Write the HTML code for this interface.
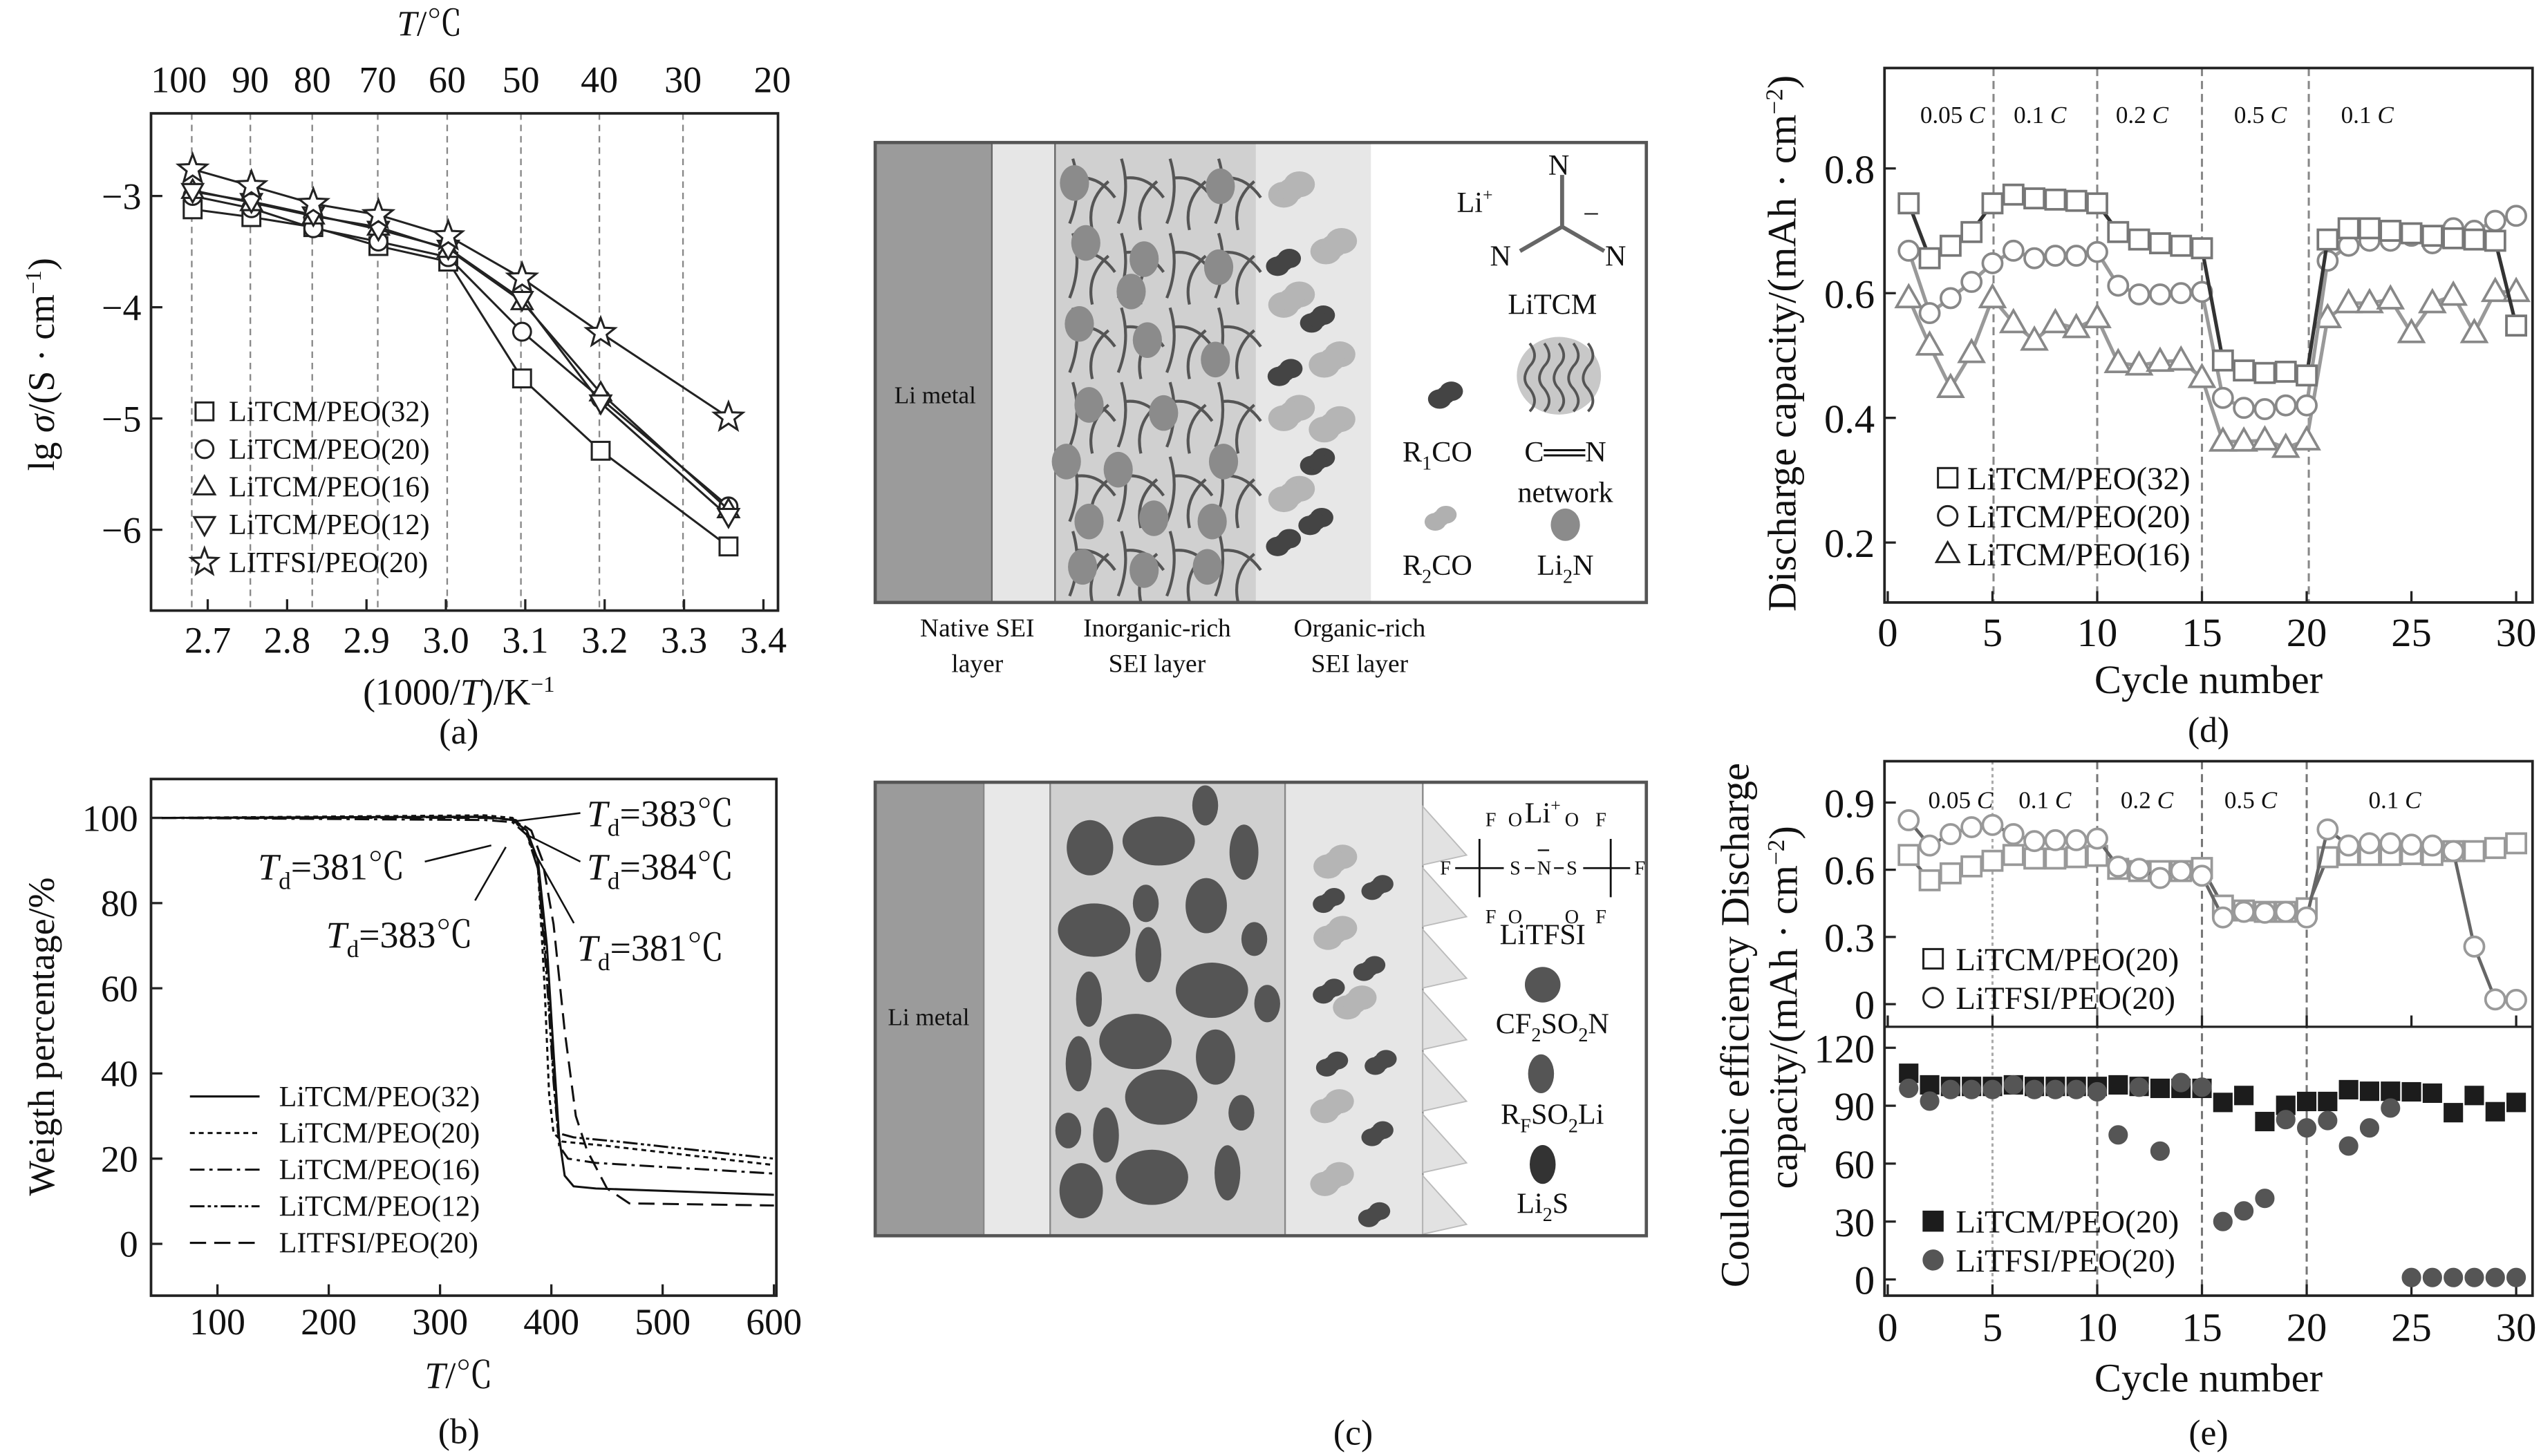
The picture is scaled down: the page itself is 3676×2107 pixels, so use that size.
<!DOCTYPE html>
<html><head><meta charset="utf-8">
<style>
html,body{margin:0;padding:0;background:#fff;}
svg{display:block;}
text{font-family:"Liberation Serif","Noto Serif CJK SC",serif;fill:#111;}
</style></head>
<body>
<svg id="fig" width="3676" height="2107" viewBox="0 0 1568 899" xmlns="http://www.w3.org/2000/svg">
<rect x="0" y="0" width="1568" height="899" fill="#fff"/>
</svg>
<script>
// ===== Panel (a) data =====
const aX = [2.681, 2.755, 2.833, 2.915, 3.003, 3.096, 3.195, 3.356];
const aPEO32 = [-3.12, -3.19, -3.28, -3.45, -3.59, -4.64, -5.29, -6.15];
const aPEO20 = [-3.0, -3.11, -3.29, -3.41, -3.55, -4.22, -4.82, -5.79];
const aPEO16 = [-2.95, -3.06, -3.18, -3.28, -3.48, -3.95, -4.77, -5.82];
const aPEO12 = [-2.96, -3.05, -3.17, -3.30, -3.47, -3.93, -4.86, -5.88];
const aTFSI = [-2.76, -2.91, -3.07, -3.17, -3.36, -3.74, -4.23, -4.99];
const aYTicks = [-3, -4, -5, -6];
const aXTicks = [2.7, 2.8, 2.9, 3.0, 3.1, 3.2, 3.3, 3.4];
const aTopTemps = [100, 90, 80, 70, 60, 50, 40, 30, 20];
const aGridTemps = [100, 90, 80, 70, 60, 50, 40, 30];

// ===== Panel (b) data =====
const bT32 = [50, 340, 365, 378, 388, 396, 402, 407, 412, 420, 440, 600];
const bW32 = [100, 100.3, 99.5, 97, 90, 70, 45, 25, 16, 13.5, 13, 11.5];
const bT20 = [50, 340, 365, 378, 388, 394, 398, 402, 410, 450, 600];
const bW20 = [100, 100.6, 100, 97, 88, 60, 35, 26, 24, 23, 18.5];
const bT16 = [50, 340, 365, 378, 388, 396, 402, 407, 415, 440, 600];
const bW16 = [100, 99.5, 99, 96, 88, 65, 40, 23, 20, 19, 16.5];
const bT12 = [50, 340, 365, 378, 388, 396, 402, 406, 420, 460, 600];
const bW12 = [100, 100.2, 99.5, 96.5, 88, 62, 38, 26, 25, 24, 20];
const bTTF = [50, 340, 368, 382, 392, 402, 412, 422, 432, 450, 470, 600];
const bWTF = [100, 100, 99.5, 97, 90, 75, 50, 30, 22, 13, 9.5, 9];
const bYTicks = [0, 20, 40, 60, 80, 100];
const bXTicks = [100, 200, 300, 400, 500, 600];

// ===== Panel (d) data =====
const cycles = [1,2,3,4,5,6,7,8,9,10,11,12,13,14,15,16,17,18,19,20,21,22,23,24,25,26,27,28,29,30];
const dPEO32 = [0.744,0.656,0.676,0.698,0.744,0.758,0.752,0.75,0.748,0.744,0.698,0.686,0.68,0.676,0.672,0.492,0.476,0.472,0.474,0.468,0.686,0.704,0.704,0.70,0.696,0.692,0.688,0.686,0.684,0.548];
const dPEO20 = [0.668,0.568,0.592,0.618,0.648,0.668,0.656,0.66,0.66,0.666,0.612,0.598,0.598,0.60,0.602,0.432,0.416,0.414,0.42,0.42,0.652,0.676,0.684,0.684,0.692,0.68,0.704,0.70,0.716,0.724];
const dPEO16 = [0.592,0.516,0.448,0.504,0.592,0.552,0.524,0.552,0.544,0.56,0.488,0.484,0.49,0.492,0.464,0.362,0.362,0.364,0.352,0.364,0.56,0.584,0.584,0.59,0.536,0.584,0.596,0.536,0.602,0.602];
const dYTicks = [0.2, 0.4, 0.6, 0.8];
const xCycleTicks = [0, 5, 10, 15, 20, 25, 30];
const rateLabels = ["0.05 ", "0.1 ", "0.2 ", "0.5 ", "0.1 "];

// ===== Panel (e) data =====
const eCapTCM = [0.666,0.553,0.584,0.615,0.64,0.666,0.65,0.65,0.656,0.662,0.604,0.594,0.594,0.594,0.608,0.44,0.418,0.412,0.412,0.428,0.656,0.666,0.666,0.666,0.67,0.666,0.683,0.683,0.697,0.718];
const eCapTFSI = [0.821,0.708,0.759,0.79,0.80,0.759,0.728,0.732,0.732,0.739,0.614,0.604,0.563,0.594,0.573,0.387,0.412,0.408,0.412,0.387,0.78,0.708,0.718,0.718,0.712,0.708,0.683,0.257,0.021,0.019];
const eCeTCM = [106.8,100.8,100,100,100,100.8,100,100,100,100,100.8,100,99,99,99,91.7,95.3,81.8,90.2,92.2,92.2,98.3,97.5,97.5,97.2,96.5,86.4,95.3,86.9,91.7];
const eCeTFSI = [99,92.4,98.4,98.4,98.4,100.8,98.4,98.4,98.4,97.2,74.9,99.6,66.5,102,99.6,30,35.5,42,82.8,78.5,82.3,69.1,78.5,88.8,1,1,1,1,1,1];
const eCapTicks = [0, 0.3, 0.6, 0.9];
const eCeTicks = [0, 30, 60, 90, 120];

const NS = "http://www.w3.org/2000/svg";
const svg = document.getElementById('fig');
function mk(tag, attrs, parent) {
  const e = document.createElementNS(NS, tag);
  for (const k in attrs) e.setAttribute(k, attrs[k]);
  (parent || svg).appendChild(e);
  return e;
}
function txt(s, x, y, size, anchor, parent, extra) {
  const t = mk('text', Object.assign({x: x, y: y, 'font-size': size, 'text-anchor': anchor || 'middle'}, extra || {}), parent);
  t.innerHTML = s;
  return t;
}
function group(parent) { return mk('g', {}, parent); }
function marker(kind, x, y, s, parent, stroke, fill, sw) {
  let e;
  if (kind === 'square') e = mk('rect', {x: x - s/2, y: y - s/2, width: s, height: s}, parent);
  else if (kind === 'circle') e = mk('circle', {cx: x, cy: y, r: s/2}, parent);
  else if (kind === 'tri') e = mk('polygon', {points: `${x},${y - s*0.6} ${x - s*0.58},${y + s*0.42} ${x + s*0.58},${y + s*0.42}`}, parent);
  else if (kind === 'itri') e = mk('polygon', {points: `${x},${y + s*0.6} ${x - s*0.58},${y - s*0.42} ${x + s*0.58},${y - s*0.42}`}, parent);
  else if (kind === 'star') {
    let p = [];
    for (let i = 0; i < 10; i++) {
      const r = i % 2 === 0 ? s*0.62 : s*0.26;
      const a = -Math.PI/2 + i*Math.PI/5;
      p.push((x + r*Math.cos(a)).toFixed(2) + ',' + (y + r*Math.sin(a)).toFixed(2));
    }
    e = mk('polygon', {points: p.join(' ')}, parent);
  }
  e.setAttribute('stroke', stroke);
  e.setAttribute('fill', fill);
  e.setAttribute('stroke-width', sw);
  return e;
}
function polyline(xs, ys, fx, fy, parent, stroke, sw, dash) {
  const pts = xs.map((v, i) => fx(v).toFixed(2) + ',' + fy(ys[i]).toFixed(2)).join(' ');
  const a = {points: pts, fill: 'none', stroke: stroke, 'stroke-width': sw, 'stroke-linejoin': 'round'};
  if (dash) a['stroke-dasharray'] = dash;
  return mk('polyline', a, parent);
}

// ================= PANEL A =================
(function () {
  const L = 93, R = 480, T = 70, B = 377;
  const ax = v => 128 + (v - 2.7) * 490;
  const ay = v => 121 + (-3 - v) * 68.7;
  const g = group();
  
  
  aGridTemps.forEach(t => {
    const x = ax(1000 / (t + 273.15));
    const l = mk('line', {x1: x, y1: T, x2: x, y2: B, stroke: '#888', 'stroke-width': 1, 'stroke-dasharray': '4,3'}, g);
    
    
  });
  const box = mk('rect', {x: L, y: T, width: R - L, height: B - T, fill: 'none', stroke: '#222', 'stroke-width': 1.6}, g);
  
  
  aYTicks.forEach(v => {
    mk('line', {x1: L, y1: ay(v), x2: L + 7, y2: ay(v), stroke: '#222', 'stroke-width': 1.4}, g);
    const t = txt('−' + Math.abs(v), L - 6, ay(v) + 8, 23, 'end', g);
    
    
  });
  aXTicks.forEach(v => {
    mk('line', {x1: ax(v), y1: B, x2: ax(v), y2: B - 7, stroke: '#222', 'stroke-width': 1.4}, g);
    const t = txt(v.toFixed(1), ax(v), B + 26, 23, 'middle', g);
    
    
  });
  aTopTemps.forEach(tc => {
    const x = ax(1000 / (tc + 273.15));
    const t = txt(String(tc), tc === 100 ? x - 8 : x, 57, 23, 'middle', g);
    
    
  });
  const tt = txt('<tspan font-style="italic">T</tspan>/℃', 265, 22, 22, 'middle', g);
  
  
  const yl = txt('lg <tspan font-style="italic">σ</tspan>/(S · cm<tspan dy="-8" font-size="14">−1</tspan><tspan dy="8">)</tspan>', 0, 0, 23, 'middle', g, {transform: 'translate(33,225) rotate(-90)'});
  
  
  const xl = txt('(1000/<tspan font-style="italic">T</tspan>)/K<tspan dy="-8" font-size="14">−1</tspan>', 283, 435, 23, 'middle', g);
  
  
  const cap = txt('(a)', 283, 459, 22, 'middle', g);
  
  

  const series = [
    {n: 'LiTCM/PEO(32)', d: aPEO32, m: 'square'},
    {n: 'LiTCM/PEO(20)', d: aPEO20, m: 'circle'},
    {n: 'LiTCM/PEO(16)', d: aPEO16, m: 'tri'},
    {n: 'LiTCM/PEO(12)', d: aPEO12, m: 'itri'},
    {n: 'LITFSI/PEO(20)', d: aTFSI, m: 'star'}
  ];
  series.forEach((s, i) => {
    const sg = group(g);
    
    
    polyline(aX, s.d, ax, ay, sg, '#222', 1.3);
    aX.forEach((x, j) => marker(s.m, ax(x), ay(s.d[j]), s.m === 'star' ? 15 : 11, sg, '#222', '#fff', 1.3));
    const ly = 254 + i * 23.3;
    const lg = group(g);
    
    
    marker(s.m, 126, ly, s.m === 'star' ? 14 : 11, lg, '#222', '#fff', 1.3);
    txt(s.n, 141, ly + 6, 18, 'start', lg);
  });
})();

// ================= PANEL B =================
(function () {
  const L = 93, R = 479, T = 481, B = 800;
  const bx = v => 134 + (v - 100) * 0.687;
  const by = v => 768 - v * 2.63;
  const g = group();
  
  
  const clip = mk('clipPath', {id: 'clipb'}, g);
  mk('rect', {x: L, y: T, width: R - L, height: B - T}, clip);
  const box = mk('rect', {x: L, y: T, width: R - L, height: B - T, fill: 'none', stroke: '#222', 'stroke-width': 1.6}, g);
  
  
  bYTicks.forEach(v => {
    mk('line', {x1: L, y1: by(v), x2: L + 7, y2: by(v), stroke: '#222', 'stroke-width': 1.4}, g);
    const t = txt(String(v), L - 8, by(v) + 8, 23, 'end', g);
    
    
  });
  bXTicks.forEach(v => {
    mk('line', {x1: bx(v), y1: B, x2: bx(v), y2: B - 7, stroke: '#222', 'stroke-width': 1.4}, g);
    const t = txt(String(v), bx(v), B + 24, 23, 'middle', g);
    
    
  });
  const yl = txt('Weigth percentage/%', 0, 0, 23, 'middle', g, {transform: 'translate(33,640) rotate(-90)'});
  
  
  const xl = txt('<tspan font-style="italic">T</tspan>/℃', 283, 857, 23, 'middle', g);
  
  
  const cap = txt('(b)', 283, 891, 22, 'middle', g);
  
  
  const series = [
    {n: 'LiTCM/PEO(32)', t: bT32, w: bW32, dash: null},
    {n: 'LiTCM/PEO(20)', t: bT20, w: bW20, dash: '3,2.5'},
    {n: 'LiTCM/PEO(16)', t: bT16, w: bW16, dash: '9,3,2,3'},
    {n: 'LiTCM/PEO(12)', t: bT12, w: bW12, dash: '9,2,2,2,2,2'},
    {n: 'LITFSI/PEO(20)', t: bTTF, w: bWTF, dash: '10,5'}
  ];
  series.forEach((s, i) => {
    const sg = group(g);
    
    
    sg.setAttribute('clip-path', 'url(#clipb)');
    polyline(s.t, s.w, bx, by, sg, '#111', 1.3, s.dash);
    const ly = 677 + i * 22.6;
    const lg = group(g);
    
    
    const la = {x1: 117, y1: ly, x2: 160, y2: ly, stroke: '#111', 'stroke-width': 1.3};
    if (s.dash) la['stroke-dasharray'] = s.dash;
    mk('line', la, lg);
    txt(s.n, 172, ly + 6, 18, 'start', lg);
  });
  const ann = [
    {s: '383', x: 362, y: 510, lx1: 318, ly1: 507, lx2: 358, ly2: 502},
    {s: '381', x: 159, y: 543, lx1: 262, ly1: 532, lx2: 303, ly2: 522},
    {s: '384', x: 362, y: 543, lx1: 326, ly1: 516, lx2: 358, ly2: 532},
    {s: '383', x: 201, y: 585, lx1: 312, ly1: 523, lx2: 293, ly2: 556},
    {s: '381', x: 356, y: 593, lx1: 330, ly1: 527, lx2: 354, ly2: 570}
  ];
  ann.forEach(a => {
    const ag = group(g);
    
    
    mk('line', {x1: a.lx1, y1: a.ly1, x2: a.lx2, y2: a.ly2, stroke: '#111', 'stroke-width': 1.1}, ag);
    txt('<tspan font-style="italic">T</tspan><tspan font-size="15" dy="6">d</tspan><tspan dy="-6">=' + a.s + '℃</tspan>', a.x, a.y, 23, 'start', ag);
  });
})();

// ================= PANEL C =================
(function () {
  const g = group();
  
  
  function blob(cx, cy, s, fill, parent) {
    const bg = group(parent);
    mk('ellipse', {cx: cx - 3*s, cy: cy + 2*s, rx: 6*s, ry: 5*s, fill: fill}, bg);
    mk('ellipse', {cx: cx + 3*s, cy: cy - 2*s, rx: 6*s, ry: 5*s, fill: fill}, bg);
    mk('ellipse', {cx: cx, cy: cy, rx: 5*s, ry: 4.5*s, fill: fill}, bg);
    return bg;
  }
  const top = group(g);
  
  
  mk('rect', {x: 540, y: 88, width: 476, height: 284, fill: '#fff'}, top);
  mk('rect', {x: 540, y: 88, width: 72, height: 284, fill: '#9b9b9b'}, top);
  mk('rect', {x: 612, y: 88, width: 39, height: 284, fill: '#e6e6e6'}, top);
  mk('rect', {x: 651, y: 88, width: 124, height: 284, fill: '#d0d0d0'}, top);
  mk('rect', {x: 775, y: 88, width: 71, height: 284, fill: '#e7e7e7'}, top);
  mk('line', {x1: 612, y1: 88, x2: 612, y2: 372, stroke: '#666', 'stroke-width': 1}, top);
  mk('line', {x1: 651, y1: 88, x2: 651, y2: 372, stroke: '#666', 'stroke-width': 1}, top);
  for (let r = 0; r < 6; r++) {
    for (let c = 0; c < 4; c++) {
      const x0 = 660 + c * 30, y0 = 98 + r * 46;
      mk('path', {d: `M${x0},${y0 + 40} q8,-20 2,-40 M${x0 + 4},${y0 + 12} q14,-2 24,12 M${x0 + 14},${y0 + 44} q-4,-18 10,-30`, fill: 'none', stroke: '#555', 'stroke-width': 1.8}, top);
    }
  }
  const dots = [[663,113],[753,115],[670,150],[706,160],[752,165],[666,200],[708,210],[750,222],[672,250],[718,255],[658,285],[690,290],[755,285],[672,322],[712,320],[748,322],[668,350],[706,352],[745,350],[698,180]];
  dots.forEach(d => mk('ellipse', {cx: d[0], cy: d[1], rx: 9, ry: 11, fill: '#8b8b8b'}, top));
  const lblobs = [[797,117],[823,152],[797,185],[822,222],[797,255],[797,305],[822,262]];
  lblobs.forEach(b => blob(b[0], b[1], 1.6, '#b5b5b5', top));
  const dblobs = [[792,162],[813,197],[793,230],[813,285],[792,335],[812,322]];
  dblobs.forEach(b => blob(b[0], b[1], 1.2, '#444', top));
  mk('rect', {x: 540, y: 88, width: 476, height: 284, fill: 'none', stroke: '#555', 'stroke-width': 2}, top);
  txt('Li metal', 577, 249, 15, 'middle', top);
  txt('Li<tspan dy="-7" font-size="11">+</tspan>', 899, 131, 18, 'start', top);
  mk('line', {x1: 964, y1: 108, x2: 964, y2: 140, stroke: '#666', 'stroke-width': 2.5}, top);
  mk('line', {x1: 964, y1: 140, x2: 938, y2: 155, stroke: '#666', 'stroke-width': 2.5}, top);
  mk('line', {x1: 964, y1: 140, x2: 990, y2: 155, stroke: '#666', 'stroke-width': 2.5}, top);
  txt('N', 962, 108, 18, 'middle', top);
  txt('N', 926, 164, 18, 'middle', top);
  txt('N', 997, 164, 18, 'middle', top);
  txt('−', 982, 138, 18, 'middle', top);
  txt('LiTCM', 958, 194, 18, 'middle', top);
  const net = group(top);
  mk('ellipse', {cx: 962, cy: 232, rx: 26, ry: 24, fill: '#c8c8c8'}, net);
  for (let i = 0; i < 5; i++) mk('path', {d: `M${944 + i*9},${212} q6,8 0,14 q-6,8 0,14 q6,8 0,14`, fill: 'none', stroke: '#555', 'stroke-width': 1.6}, net);
  blob(892, 244, 1.2, '#444', top);
  txt('R<tspan font-size="12" dy="5">1</tspan><tspan dy="-5">CO</tspan>', 887, 285, 18, 'middle', top);
  txt('C══N', 966, 285, 18, 'middle', top);
  txt('network', 966, 310, 18, 'middle', top);
  blob(889, 320, 1.1, '#b0b0b0', top);
  txt('R<tspan font-size="12" dy="5">2</tspan><tspan dy="-5">CO</tspan>', 887, 355, 18, 'middle', top);
  mk('ellipse', {cx: 966, cy: 324, rx: 9, ry: 10, fill: '#8b8b8b'}, top);
  txt('Li<tspan font-size="12" dy="5">2</tspan><tspan dy="-5">N</tspan>', 966, 355, 18, 'middle', top);
  [['Native SEI', 'layer', 603], ['Inorganic-rich', 'SEI layer', 714], ['Organic-rich', 'SEI layer', 839]].forEach(l => {
    const t = txt(l[0], l[2], 393, 16, 'middle', g);
    
    
    txt(l[1], l[2], 415, 16, 'middle', g);
  });

  const bot = group(g);
  
  
  mk('rect', {x: 540, y: 483, width: 476, height: 280, fill: '#fff'}, bot);
  mk('rect', {x: 540, y: 483, width: 67, height: 280, fill: '#9b9b9b'}, bot);
  mk('rect', {x: 607, y: 483, width: 41, height: 280, fill: '#e8e8e8'}, bot);
  mk('rect', {x: 648, y: 483, width: 145, height: 280, fill: '#d0d0d0'}, bot);
  mk('rect', {x: 793, y: 483, width: 85, height: 280, fill: '#e6e6e6'}, bot);
  [607, 648, 793, 878].forEach(x => mk('line', {x1: x, y1: 483, x2: x, y2: 763, stroke: '#888', 'stroke-width': 1}, bot));
  for (let i = 0; i < 7; i++) {
    const y0 = 498 + i * 38;
    mk('polygon', {points: `878,${y0} 905,${y0 + 30} 878,${y0 + 36}`, fill: '#e2e2e2', stroke: '#bbb', 'stroke-width': 0.8}, bot);
  }
  const ells = [[447,205,45,62],[580,190,70,55],[670,110,25,45],[745,215,28,62],[555,330,25,42],[455,390,70,60],[672,335,40,62],[765,410,25,38],[560,445,25,62],[445,545,25,62],[683,525,70,62],[790,555,25,42],[535,640,70,62],[425,690,25,62],[690,675,38,62],[585,765,70,62],[740,800,25,40],[405,840,25,40],[478,850,25,62],[430,975,42,62],[567,945,70,62],[713,935,25,62]];
  ells.forEach(e => mk('ellipse', {cx: 648 + (e[0] - 370) * 0.319, cy: 483 + (e[1] - 58) * 0.275, rx: e[2] * 0.319, ry: e[3] * 0.275, fill: '#555'}, bot));
  [[824,532],[824,576],[836,619],[822,683],[822,728]].forEach(b => blob(b[0], b[1], 1.5, '#b5b5b5', bot));
  [[820,556],[850,548],[845,598],[820,612],[822,657],[852,656],[850,700],[848,750]].forEach(b => blob(b[0], b[1], 1.1, '#4a4a4a', bot));
  mk('rect', {x: 540, y: 483, width: 476, height: 280, fill: 'none', stroke: '#555', 'stroke-width': 2}, bot);
  txt('Li metal', 573, 633, 15, 'middle', bot);
  txt('Li<tspan dy="-7" font-size="11">+</tspan>', 952, 508, 18, 'middle', bot);
  [['F', 920, 510], ['O', 935, 510], ['O', 970, 510], ['F', 988, 510], ['F', 892, 540], ['S', 935, 540], ['N', 953, 540], ['S', 970, 540], ['F', 1012, 540], ['F', 920, 570], ['O', 935, 570], ['O', 970, 570], ['F', 988, 570]].forEach(a => txt(a[0], a[1], a[2], 12, 'middle', bot));
  mk('line', {x1: 898, y1: 536, x2: 928, y2: 536, stroke: '#111', 'stroke-width': 1.2}, bot);
  mk('line', {x1: 913, y1: 518, x2: 913, y2: 554, stroke: '#111', 'stroke-width': 1.2}, bot);
  mk('line', {x1: 977, y1: 536, x2: 1006, y2: 536, stroke: '#111', 'stroke-width': 1.2}, bot);
  mk('line', {x1: 994, y1: 518, x2: 994, y2: 554, stroke: '#111', 'stroke-width': 1.2}, bot);
  mk('line', {x1: 941, y1: 536, x2: 947, y2: 536, stroke: '#111', 'stroke-width': 1}, bot);
  mk('line', {x1: 959, y1: 536, x2: 965, y2: 536, stroke: '#111', 'stroke-width': 1}, bot);
  mk('line', {x1: 949, y1: 525, x2: 956, y2: 525, stroke: '#111', 'stroke-width': 1}, bot);
  txt('LiTFSI', 952, 583, 18, 'middle', bot);
  mk('circle', {cx: 952, cy: 608, r: 11, fill: '#555'}, bot);
  txt('CF<tspan font-size="12" dy="5">2</tspan><tspan dy="-5">SO</tspan><tspan font-size="12" dy="5">2</tspan><tspan dy="-5">N</tspan>', 958, 638, 18, 'middle', bot);
  mk('ellipse', {cx: 951, cy: 663, rx: 8, ry: 12, fill: '#555'}, bot);
  txt('R<tspan font-size="12" dy="5">F</tspan><tspan dy="-5">SO</tspan><tspan font-size="12" dy="5">2</tspan><tspan dy="-5">Li</tspan>', 958, 694, 18, 'middle', bot);
  mk('ellipse', {cx: 952, cy: 719, rx: 8, ry: 12, fill: '#333'}, bot);
  txt('Li<tspan font-size="12" dy="5">2</tspan><tspan dy="-5">S</tspan>', 952, 749, 18, 'middle', bot);
  const cap = txt('(c)', 835, 892, 22, 'middle', g);
  
  
})();

// ================= PANEL D =================
(function () {
  const L = 1163, R = 1563, T = 42, B = 372;
  const dx = c => 1165 + c * 12.93;
  const dy = v => 104 + (0.8 - v) * 385;
  const g = group();
  
  
  [5.05, 10, 15, 20.1].forEach(c => mk('line', {x1: dx(c), y1: T, x2: dx(c), y2: B, stroke: '#888', 'stroke-width': 1.3, 'stroke-dasharray': '5,3'}, g));
  const box = mk('rect', {x: L, y: T, width: R - L, height: B - T, fill: 'none', stroke: '#222', 'stroke-width': 1.6}, g);
  
  
  dYTicks.forEach(v => {
    mk('line', {x1: L, y1: dy(v), x2: L + 7, y2: dy(v), stroke: '#222', 'stroke-width': 1.4}, g);
    const t = txt(v.toFixed(1), L - 6, dy(v) + 9, 25, 'end', g);
    
    
  });
  xCycleTicks.forEach(v => {
    mk('line', {x1: dx(v), y1: B, x2: dx(v), y2: B - 7, stroke: '#222', 'stroke-width': 1.4}, g);
    const t = txt(String(v), dx(v), B + 27, 25, 'middle', g);
    
    
  });
  [1205, 1259, 1322, 1395, 1461].forEach((x, i) => {
    const t = txt(rateLabels[i] + '<tspan font-style="italic">C</tspan>', x, 76, 15, 'middle', g);
    
    
  });
  const yl = txt('Discharge capacity/(mAh · cm<tspan dy="-8" font-size="15">−2</tspan><tspan dy="8">)</tspan>', 0, 0, 25, 'middle', g, {transform: 'translate(1108,212) rotate(-90)'});
  
  
  const xl = txt('Cycle number', 1363, 428, 25, 'middle', g);
  
  
  const cap = txt('(d)', 1363, 458, 22, 'middle', g);
  
  
  const series = [
    {n: 'LiTCM/PEO(32)', d: dPEO32, m: 'square', lc: '#333', mc: '#777'},
    {n: 'LiTCM/PEO(20)', d: dPEO20, m: 'circle', lc: '#999', mc: '#888'},
    {n: 'LiTCM/PEO(16)', d: dPEO16, m: 'tri', lc: '#999', mc: '#888'}
  ];
  series.slice().reverse().forEach(s => {
    const sg = group(g);
    
    
    polyline(cycles, s.d, dx, dy, sg, s.lc, 2.2);
    cycles.forEach((c, j) => marker(s.m, dx(c), dy(s.d[j]), s.m === 'tri' ? 13 : 12, sg, s.mc, '#fff', 1.6));
  });
  series.forEach((s, i) => {
    const ly = 295 + i * 23.5;
    const lg = group(g);
    
    
    marker(s.m, 1202, ly, 12, lg, '#222', '#fff', 1.3);
    txt(s.n, 1214, ly + 7, 20, 'start', lg);
  });
})();

// ================= PANEL E =================
(function () {
  const L = 1163, R = 1563, T = 470, M = 634, B = 800;
  const ex = c => 1165 + c * 12.93;
  const eyU = v => 620 - v * 138.3;
  const eyL = v => 790 - v * 1.192;
  const g = group();
  
  
  [5, 10, 15, 20].forEach(c => mk('line', {x1: ex(c), y1: T, x2: ex(c), y2: B, stroke: c === 5 ? '#aaa' : '#777', 'stroke-width': 1.3, 'stroke-dasharray': c === 5 ? '2,2' : '5,3'}, g));
  const box = mk('rect', {x: L, y: T, width: R - L, height: B - T, fill: 'none', stroke: '#222', 'stroke-width': 1.6}, g);
  
  
  mk('line', {x1: L, y1: M, x2: R, y2: M, stroke: '#222', 'stroke-width': 1.4}, g);
  eCapTicks.forEach(v => {
    mk('line', {x1: L, y1: eyU(v), x2: L + 7, y2: eyU(v), stroke: '#222', 'stroke-width': 1.4}, g);
    const t = txt(v === 0 ? '0' : v.toFixed(1), L - 6, eyU(v) + 9, 25, 'end', g);
    
    
  });
  eCeTicks.forEach(v => {
    mk('line', {x1: L, y1: eyL(v), x2: L + 7, y2: eyL(v), stroke: '#222', 'stroke-width': 1.4}, g);
    const t = txt(String(v), L - 6, eyL(v) + 9, 25, 'end', g);
    
    
  });
  xCycleTicks.forEach(v => {
    mk('line', {x1: ex(v), y1: B, x2: ex(v), y2: B - 7, stroke: '#222', 'stroke-width': 1.4}, g);
    mk('line', {x1: ex(v), y1: M, x2: ex(v), y2: M - 7, stroke: '#222', 'stroke-width': 1.4}, g);
    const t = txt(String(v), ex(v), B + 28, 25, 'middle', g);
    
    
  });
  [1210, 1262, 1325, 1389, 1478].forEach((x, i) => {
    const t = txt(rateLabels[i] + '<tspan font-style="italic">C</tspan>', x, 499, 15, 'middle', g);
    
    
  });
  const yl1 = txt('Coulombic efficiency Discharge', 0, 0, 25, 'middle', g, {transform: 'translate(1079,633) rotate(-90)'});
  
  
  const yl2 = txt('capacity/(mAh · cm<tspan dy="-8" font-size="15">−2</tspan><tspan dy="8">)</tspan>', 0, 0, 25, 'middle', g, {transform: 'translate(1109,622) rotate(-90)'});
  
  
  const xl = txt('Cycle number', 1363, 859, 25, 'middle', g);
  
  
  const cap = txt('(e)', 1363, 892, 22, 'middle', g);
  
  
  const sU = [
    {n: 'LiTCM/PEO(20)', d: eCapTCM, m: 'square'},
    {n: 'LiTFSI/PEO(20)', d: eCapTFSI, m: 'circle'}
  ];
  sU.forEach(s => {
    const sg = group(g);
    
    
    polyline(cycles, s.d, ex, eyU, sg, '#666', 2);
    cycles.forEach((c, j) => marker(s.m, ex(c), eyU(s.d[j]), 12, sg, '#999', '#fff', 1.6));
  });
  const sL = [
    {n: 'LiTCM/PEO(20)', d: eCeTCM, m: 'square', f: '#1c1c1c'},
    {n: 'LiTFSI/PEO(20)', d: eCeTFSI, m: 'circle', f: '#555'}
  ];
  sL.forEach(s => {
    const sg = group(g);
    
    
    cycles.forEach((c, j) => marker(s.m, ex(c), eyL(s.d[j]), 11, sg, s.f, s.f, 1));
  });
  sU.forEach((s, i) => {
    const ly = 592 + i * 24;
    const lg = group(g);
    
    
    marker(s.m, 1193, ly, 12, lg, '#222', '#fff', 1.3);
    txt(s.n, 1207, ly + 7, 20, 'start', lg);
  });
  sL.forEach((s, i) => {
    const ly = 754 + i * 24;
    const lg = group(g);
    
    
    marker(s.m, 1193, ly, 12, lg, s.f, s.f, 1);
    txt(s.n, 1207, ly + 7, 20, 'start', lg);
  });
})();
</script>
</body></html>
